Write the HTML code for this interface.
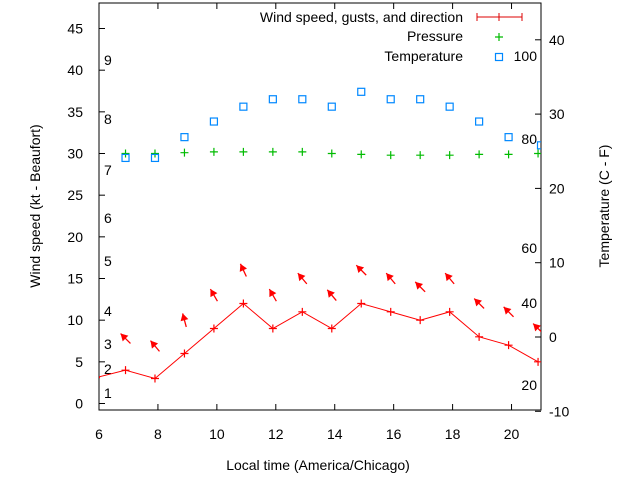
<!DOCTYPE html>
<html><head><meta charset="utf-8"><style>
body{margin:0;background:#fff}
svg text{font-family:"Liberation Sans",sans-serif;font-size:14px;fill:#000}
</style></head><body>
<svg id="chart" width="640" height="480" xmlns="http://www.w3.org/2000/svg"></svg>
<script>
const hours=[5.9,6.9,7.9,8.9,9.9,10.9,11.9,12.9,13.9,14.9,15.9,16.9,17.9,18.9,19.9,20.9];
const windSpeed=[3.1,4,3,6,9,12,9,11,9,12,11,10,11,8,7,5];
const gustHours=[6.9,7.9,8.9,9.9,10.9,11.9,12.9,13.9,14.9,15.9,16.9,17.9,18.9,19.9,20.9];
const gusts=[7.8,6.9,10,13,16,13,15,13,16,15,14,15,12,11,9];
const windDir=[315,320,345,330,335,330,320,320,315,320,315,320,315,315,315];
const pressure=[30,30,30.1,30.2,30.2,30.2,30.2,30,29.9,29.8,29.8,29.8,29.9,29.9,30];
const tempC=[24.1,24.1,26.9,29,31,32,32,31,33,32,32,31,29,26.9,25.8];
const tempHours=[6.9,7.9,8.9,9.9,10.9,11.9,12.9,13.9,14.9,15.9,16.9,17.9,18.9,19.9,21];
const xTicks=[6,8,10,12,14,16,18,20];
const yTicks=[0,5,10,15,20,25,30,35,40,45];
const y2Ticks=[-10,0,10,20,30,40];
const beaufort=[[1,393],[2,369],[3,344],[4,311],[5,261],[6,218],[7,170],[8,119],[9,60]];
const fahr=[[100,56],[80,139],[60,248],[40,303],[20,385]];
const L=99,R=541,T=3,B=410;
const X=h=>L+(h-6)*(R-L)/15;
const Y=v=>403.5-v*8.333;
const Y2=c=>337-c*7.43;
const svg=document.getElementById('chart');
const NS='http://www.w3.org/2000/svg';
function mk(tag,attrs,parent){const e=document.createElementNS(NS,tag);for(const k in attrs)e.setAttribute(k,attrs[k]);(parent||svg).appendChild(e);return e;}
function txt(x,y,s,anchor,name){const t=mk('text',{x:x,y:y,'text-anchor':anchor||'start'});t.textContent=s;


return t;}
const clip=mk('clipPath',{id:'pc'});mk('rect',{x:L,y:T,width:R-L,height:B-T},clip);
const frame=mk('rect',{x:L,y:T,width:R-L,height:B-T,fill:'none',stroke:'#000','stroke-width':1});


xTicks.forEach(h=>{const x=X(h);mk('line',{x1:x,y1:B,x2:x,y2:B-6,stroke:'#000'});mk('line',{x1:x,y1:T,x2:x,y2:T+6,stroke:'#000'});txt(x,439,String(h),'middle','x-tick-label');});
yTicks.forEach(v=>{const y=Y(v);mk('line',{x1:L,y1:y,x2:L+6,y2:y,stroke:'#000'});txt(83,y+5,String(v),'end','y-tick-label');});
y2Ticks.forEach(c=>{const y=Y2(c);mk('line',{x1:R,y1:y,x2:R-6,y2:y,stroke:'#000'});txt(549,y+5,String(c),'start','y2-tick-label');});
beaufort.forEach(b=>txt(104,b[1]+5,String(b[0]),'start','beaufort-label'));
fahr.forEach(f=>txt(537,f[1]+5,String(f[0]),'end','fahrenheit-label'));
const g=mk('g',{'clip-path':'url(#pc)'});
const pts=hours.map((h,i)=>X(h)+','+Y(windSpeed[i])).join(' ');
const wl=mk('polyline',{points:pts,fill:'none',stroke:'#f00','stroke-width':1},g);


hours.forEach((h,i)=>{const x=X(h),y=Y(windSpeed[i]);const p=mk('path',{d:`M${x-4},${y}h8M${x},${y-4}v8`,stroke:'#f00','stroke-width':1.2},g);

});
gustHours.forEach((h,i)=>{const cx=X(h),cy=Y(gusts[i]);const a=windDir[i]*Math.PI/180;const dx=Math.sin(a),dy=-Math.cos(a);const l=7;
const hx=cx+dx*l,hy=cy+dy*l,tx=cx-dx*l,ty=cy-dy*l;
const ar=mk('g',{},g);


mk('line',{x1:tx,y1:ty,x2:hx,y2:hy,stroke:'#f00','stroke-width':1.3},ar);
const px=-dy,py=dx,s=7,w=4;
mk('polygon',{points:`${hx},${hy} ${hx-dx*s+px*w},${hy-dy*s+py*w} ${hx-dx*s-px*w},${hy-dy*s-py*w}`,fill:'#f00'},ar);});
gustHours.forEach((h,i)=>{const x=X(h),y=Y(pressure[i]);const p=mk('path',{d:`M${x-4},${y}h8M${x},${y-4}v8`,stroke:'#0b0','stroke-width':1.2},g);

});
tempHours.forEach((h,i)=>{const x=X(h),y=Y2(tempC[i]);const r=mk('rect',{x:x-3.5,y:y-3.5,width:7,height:7,fill:'none',stroke:'#08f','stroke-width':1.2},g);

});
txt(463,22,'Wind speed, gusts, and direction','end','legend-wind');
mk('path',{d:'M477,17h45M477,13v8M522,13v8M499,13v8',stroke:'#d00','stroke-width':1});
txt(463,41,'Pressure','end','legend-pressure');
mk('path',{d:'M495,37h8M499,33v8',stroke:'#0b0','stroke-width':1.2});
txt(463,61,'Temperature','end','legend-temperature');
mk('rect',{x:495.5,y:53.5,width:7,height:7,fill:'none',stroke:'#08f','stroke-width':1.2});
txt(318,470,'Local time (America/Chicago)','middle','x-axis-title');
const yt=txt(0,0,'Wind speed (kt - Beaufort)','middle','y-axis-title');yt.setAttribute('transform','translate(40,206) rotate(-90)');
const y2t=txt(0,0,'Temperature (C - F)','middle','y2-axis-title');y2t.setAttribute('transform','translate(609,206) rotate(-90)');
</script>
</body></html>
